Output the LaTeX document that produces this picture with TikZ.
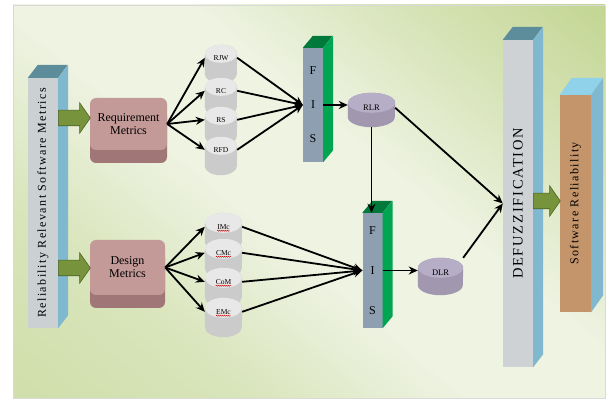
\documentclass[tikz,border=0pt]{standalone}
\usepackage{fontspec}
\setmainfont{Liberation Serif}
\newfontfamily\spacedfont[LetterSpace=12]{Liberation Serif}
\usepackage{graphicx}
\usepackage{xcolor}
\usepackage{tikz}
\usetikzlibrary{shapes.arrows, arrows.meta, calc, decorations.pathmorphing}

\definecolor{panelgreen}{HTML}{C3D693}
\definecolor{panellight}{HTML}{EEF3E2}
\definecolor{slabfront}{HTML}{CBD0D3}
\definecolor{slabtop}{HTML}{5D8C9A}
\definecolor{slabside}{HTML}{80B8CF}
\definecolor{fisfront}{HTML}{8E9FB1}
\definecolor{fisside}{HTML}{00A551}
\definecolor{fistop}{HTML}{00793B}
\definecolor{metlight}{HTML}{C39A98}
\definecolor{metdark}{HTML}{A17676}
\definecolor{cylend}{HTML}{E8E8E8}
\definecolor{cylbody}{HTML}{CBCBCB}
\definecolor{lrend}{HTML}{B6AEC6}
\definecolor{lrbody}{HTML}{A198B0}
\definecolor{fatgreen}{HTML}{77933C}
\definecolor{fatedge}{HTML}{4F6228}
\definecolor{relbrown}{HTML}{C4946B}
\definecolor{reltop}{HTML}{8FD2EA}

% soft green wash, pale across the middle
\pgfdeclareverticalshading{panelwash}{100bp}{color(0bp)=(panelgreen!90!panellight); color(30bp)=(panelgreen!50!panellight); color(45bp)=(panellight); color(58bp)=(panellight); color(72bp)=(panelgreen!55!panellight); color(85bp)=(panelgreen); color(100bp)=(panelgreen)}

\tikzstyle{slab} = [rectangle, inner sep=0pt, fill=slabfront]
\tikzstyle{fis} = [rectangle, inner sep=0pt, minimum width=20pt, fill=fisfront]
\tikzstyle{fisletters} = [align=center, inner sep=0pt]
\tikzstyle{metric} = [rectangle, rounded corners=6pt, fill=metlight, align=center, inner sep=0pt, font=\fontsize{12}{13}\selectfont]
\tikzstyle{drumbox} = [rectangle, inner sep=0pt]
\tikzstyle{metricbody} = [fill=cylbody]
\tikzstyle{metricend} = [fill=cylend]
\tikzstyle{metrictext} = [font=\fontsize{7.5}{8}\selectfont, inner sep=0pt]
\tikzstyle{ratebody} = [fill=lrbody]
\tikzstyle{rateend} = [fill=lrend]
\tikzstyle{ratetext} = [font=\fontsize{8.5}{9}\selectfont, inner sep=0pt]
\tikzstyle{fatarrow} = [single arrow, fill=fatgreen, draw=fatedge, line width=0.6pt, single arrow tip angle=110, single arrow head extend=7.5pt, inner xsep=0pt, inner ysep=7.5pt, minimum width=30pt]
\tikzstyle{arrow} = [line width=1.8pt, -{Stealth[length=9pt, width=8pt]}]
\tikzstyle{squiggle} = [red!80!black, line width=0.4pt, decorate, decoration={snake, amplitude=0.6pt, segment length=2pt}]

% drum: name, centre, width, height, end radius, kind, text, text drop from top
\newcommand{\drum}[8]{%
    \node[drumbox, minimum width=#3pt, minimum height=#4pt] (#1) at (#2) {};
    \fill[#6body] ($(#1.north west)+(0,#5)$) -- ($(#1.south west)+(0,-#5)$)
        arc[start angle=180, end angle=360, x radius=#3pt/2, y radius=#5pt]
        -- ($(#1.north east)+(0,#5)$)
        arc[start angle=0, end angle=180, x radius=#3pt/2, y radius=#5pt] -- cycle;
    \fill[#6end] ($(#1.north)+(0,#5)$) ellipse[x radius=#3pt/2, y radius=#5pt];
    \node[#6text] (#1t) at ($(#1.north)+(0,#8)$) {#7};
}

\begin{document}
\begin{tikzpicture}[x=1pt, y=-1pt]
    \useasboundingbox (0,0) rectangle (614,401);
    % Background panel
    \shade[shading=panelwash, shading angle=-40, draw=black!15] (13,5) rectangle (605,398);

    % Input metrics slab
    \node[slab, minimum width=30pt, minimum height=250pt] (relm) at (43,203) {\rotatebox{90}{\spacedfont\fontsize{12}{12}\selectfont Reliability Relevant Software Metrics}};
    \fill[slabtop] (relm.north west) -- ++(10,-13) -- ++(30,0) -- (relm.north east) -- cycle;
    \fill[slabside] (relm.north east) -- ++(10,-13) -- ($(relm.south east)+(10,-13)$) -- (relm.south east) -- cycle;

    % Metric groups
    \fill[metdark, rounded corners=6pt] (90,110) rectangle (167,163);
    \node[metric, minimum width=77pt, minimum height=52pt] (req) at (128.5,124) {Requirement\\Metrics};
    \fill[metdark, rounded corners=6pt] (90,252) rectangle (165,308);
    \node[metric, minimum width=75pt, minimum height=55pt] (des) at (127.5,267.5) {Design\\Metrics};

    \node[fatarrow, minimum height=32pt, anchor=tail] (a1) at (58,118) {};
    \node[fatarrow, minimum height=32pt, anchor=tail] (a2) at (58,268) {};

    % Requirement metrics
    \drum{rjw}{221,64}{32}{38}{9}{metric}{RJW}{13}
    \drum{rc}{221,97}{32}{38}{9}{metric}{RC}{13}
    \drum{rs}{221,126}{32}{38}{9}{metric}{RS}{13}
    \drum{rfd}{221,156}{32}{38}{9}{metric}{RFD}{13}

    % Design metrics
    \drum{imc}{223.5,232.5}{37}{39}{10}{metric}{IMc}{14}
    \drum{cmc}{223.5,258.5}{37}{39}{10}{metric}{CMc}{14}
    \drum{com}{223.5,287.5}{37}{39}{10}{metric}{CoM}{14}
    \drum{emc}{223.5,317.5}{37}{39}{10}{metric}{EMc}{14}
    \draw[squiggle] ($(imct.base west)+(0,1.5)$) -- ($(imct.base east)+(0,1.5)$);
    \draw[squiggle] ($(cmct.base west)+(0,1.5)$) -- ($(cmct.base east)+(0,1.5)$);
    \draw[squiggle] ($(comt.base west)+(0,1.5)$) -- ($(comt.base east)+(0,1.5)$);
    \draw[squiggle] ($(emct.base west)+(0,1.5)$) -- ($(emct.base east)+(0,1.5)$);

    % Inference blocks
    \node[fis, minimum height=114pt, label={[fisletters, font=\fontsize{12}{34}\selectfont]center:F\\I\\S}] (fis1) at (313,105) {};
    \fill[fistop] (fis1.north west) -- ++(10,-12) -- ++(20,0) -- (fis1.north east) -- cycle;
    \fill[fisside] (fis1.north east) -- ++(10,-12) -- ($(fis1.south east)+(10,-12)$) -- (fis1.south east) -- cycle;
    \node[fis, minimum height=115pt, label={[fisletters, font=\fontsize{12}{40}\selectfont]center:F\\I\\S}] (fis2) at (372.5,270.5) {};
    \fill[fistop] (fis2.north west) -- ++(10,-12) -- ++(20,0) -- (fis2.north east) -- cycle;
    \fill[fisside] (fis2.north east) -- ++(10,-12) -- ($(fis2.south east)+(10,-12)$) -- (fis2.south east) -- cycle;

    % Reliability levels
    \drum{rlr}{371.5,110}{47}{34}{10}{rate}{RLR}{15}
    \drum{dlr}{440.5,276.5}{45}{37}{10}{rate}{DLR}{15}

    % Defuzzification and output
    \node[slab, fill=slabfront!95!white, minimum width=30pt, minimum height=327pt] (defuz) at (518,203.5) {\rotatebox{90}{\spacedfont\fontsize{14.5}{15}\selectfont DEFUZZIFICATION}};
    \fill[slabtop] (defuz.north west) -- ++(10,-13) -- ++(30,0) -- (defuz.north east) -- cycle;
    \fill[slabside] (defuz.north east) -- ++(10,-13) -- ($(defuz.south east)+(10,-13)$) -- (defuz.south east) -- cycle;

    \node[slab, fill=relbrown, minimum width=31pt, minimum height=217pt] (soft) at (575.5,203.5) {\rotatebox{90}{\spacedfont\fontsize{12}{12}\selectfont Software Reliability}};
    \fill[reltop] (soft.north west) -- ++(12,-17) -- ++(31,0) -- (soft.north east) -- cycle;
    \fill[slabside] (soft.north east) -- ++(12,-17) -- ($(soft.south east)+(12,-17)$) -- (soft.south east) -- cycle;

    \node[fatarrow, minimum height=27pt, anchor=tail] (a3) at (533,201) {};

    % Connections
    \draw[arrow] (req.east) -- (rjw.west |- rjwt);
    \draw[arrow] (req.east) -- (rc.west |- rct);
    \draw[arrow] (req.east) -- (rs.west |- rst);
    \draw[arrow] (req.east) -- (rfd.west |- rfdt);
    \draw[arrow] (des.east) -- (imc.west |- imct);
    \draw[arrow] (des.east) -- (cmc.west |- cmct);
    \draw[arrow] (des.east) -- (com.west |- comt);
    \draw[arrow] (des.east) -- (emc.west |- emct);

    \draw[arrow] (rjw.east |- rjwt) -- (fis1.west);
    \draw[arrow] (rc.east |- rct) -- (fis1.west);
    \draw[arrow] (rs.east |- rst) -- (fis1.west);
    \draw[arrow] (rfd.east |- rfdt) -- (fis1.west);
    \draw[arrow] (imc.east |- imct) -- (fis2.west);
    \draw[arrow] (cmc.east |- cmct) -- (fis2.west);
    \draw[arrow] (com.east |- comt) -- (fis2.west);
    \draw[arrow] (emc.east |- emct) -- (fis2.west);

    \draw[arrow] (fis1.east) -- (fis1.east -| rlr.west);
    \draw[arrow] (rlr.south) -- (rlr.south |- fis2.north);
    \draw[arrow] (fis2.east) -- (fis2.east -| dlr.west);
    \draw[arrow] (rlr.east |- rlrt) -- (defuz.west);
    \draw[arrow] (dlr.north east) -- (defuz.west);
\end{tikzpicture}
\end{document}
